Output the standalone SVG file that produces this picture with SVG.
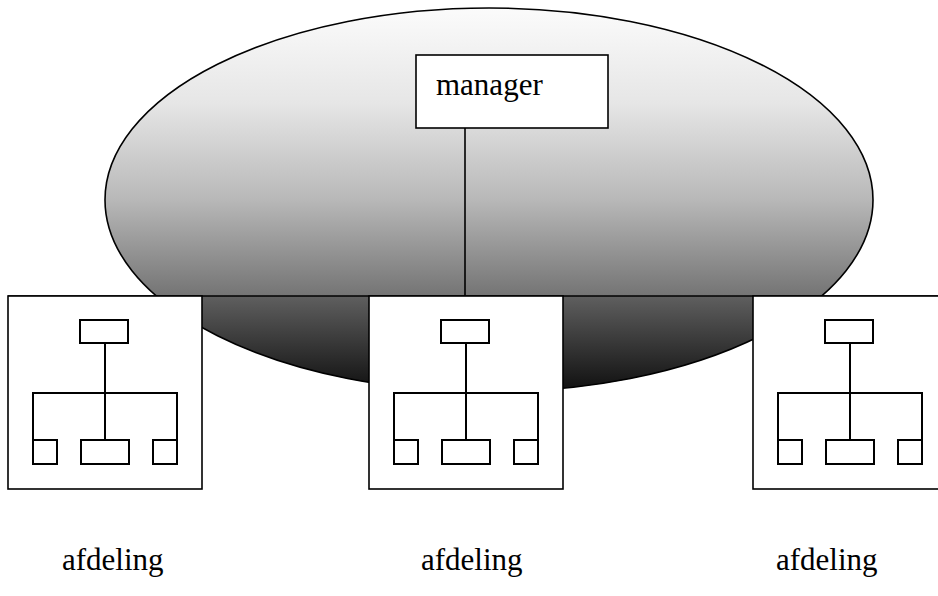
<svg xmlns="http://www.w3.org/2000/svg" width="938" height="596" viewBox="0 0 938 596">
<style>
.box{fill:#fff;stroke:#000;stroke-width:1.6}
.in{fill:#fff;stroke:#000;stroke-width:2}
.ln{fill:none;stroke:#000;stroke-width:2}
.c{fill:none;stroke:#000;stroke-width:1.6}
.t{font-family:"Liberation Serif","Times New Roman",serif;font-size:31px;fill:#000}
</style>
<defs>
<linearGradient id="gUp" gradientUnits="userSpaceOnUse" x1="0" y1="8" x2="0" y2="296">
<stop offset="0" stop-color="#fbfbfb"/>
<stop offset="0.33" stop-color="#e6e6e6"/>
<stop offset="0.66" stop-color="#b9b9b9"/>
<stop offset="1" stop-color="#747474"/>
</linearGradient>
<linearGradient id="gLow" gradientUnits="userSpaceOnUse" x1="0" y1="296" x2="0" y2="392">
<stop offset="0" stop-color="#5f5f5f"/>
<stop offset="1" stop-color="#0f0f0f"/>
</linearGradient>
<clipPath id="cUp"><rect x="0" y="0" width="938" height="296"/></clipPath>
<clipPath id="cLow"><rect x="0" y="296" width="938" height="300"/></clipPath>
<g id="unit">
<rect class="box" x="0" y="0" width="194" height="193"/>
<rect class="in" x="72" y="24" width="48" height="23"/>
<path class="ln" d="M97 47 V144 M25 144 V97 H169 V144"/>
<rect class="in" x="25" y="144" width="24" height="24"/>
<rect class="in" x="73" y="144" width="48" height="24"/>
<rect class="in" x="145" y="144" width="24" height="24"/>
</g>
</defs>
<g id="ellipse">
<ellipse cx="489" cy="200" rx="384" ry="192" fill="url(#gUp)" stroke="#000" stroke-width="1.6" clip-path="url(#cUp)"/>
<ellipse cx="489" cy="200" rx="384" ry="192" fill="url(#gLow)" stroke="#000" stroke-width="1.6" clip-path="url(#cLow)"/>
</g>
<g id="connectors">
<line class="c" x1="8" y1="296" x2="938" y2="296"/>
<line class="c" x1="465" y1="128" x2="465" y2="296"/>
</g>
<g id="manager">
<rect class="box" x="416" y="55" width="192" height="73"/>
<text class="t" x="436" y="95">manager</text>
</g>
<g id="afdeling1">
<use href="#unit" x="8" y="296"/>
<text class="t" x="62" y="570">afdeling</text>
</g>
<g id="afdeling2">
<use href="#unit" x="369" y="296"/>
<text class="t" x="421" y="570">afdeling</text>
</g>
<g id="afdeling3">
<use href="#unit" x="753" y="296"/>
<text class="t" x="776" y="570">afdeling</text>
</g>
</svg>
